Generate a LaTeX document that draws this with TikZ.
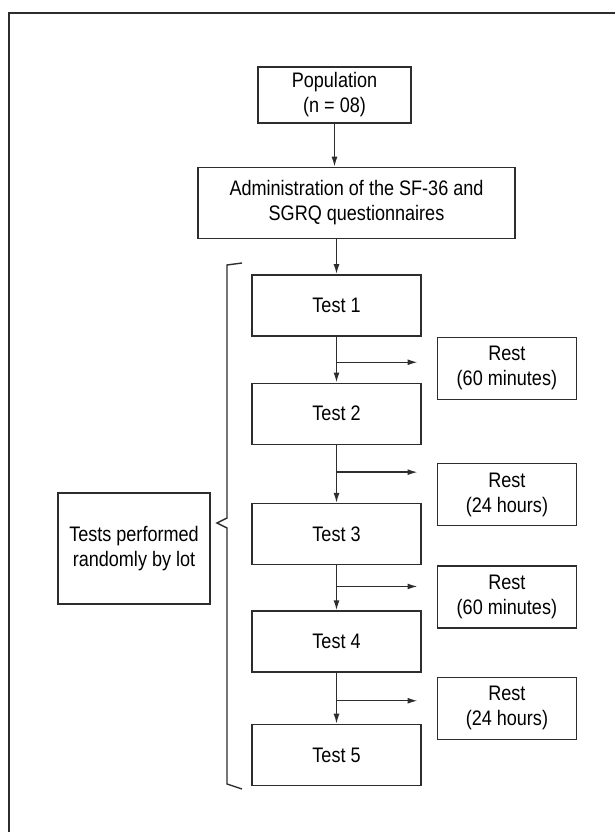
\documentclass[tikz,border=0pt]{standalone}
\usepackage{fontspec}
\setmainfont{Liberation Sans}[FakeStretch=0.86]
\usepackage{tikz}
\usetikzlibrary{arrows.meta, positioning, calc}
\definecolor{lineGray}{RGB}{45,45,45}
\tikzset{
  basebox/.style={rectangle,draw=lineGray,line width=1.4pt,align=center,inner sep=2pt,font=\fontsize{21}{25}\selectfont},
  popnode/.style={basebox,minimum width=153pt,minimum height=56pt},
  adminnode/.style={basebox,minimum width=317pt,minimum height=71pt},
  testnode/.style={basebox,minimum width=169pt,minimum height=61pt},
  restnode/.style={basebox,minimum width=139pt,minimum height=62pt},
  lotnode/.style={basebox,minimum width=152pt,minimum height=111pt},
  arr/.style={-{Latex[length=10pt,width=6pt]},line width=1.4pt,color=lineGray},
  bracketline/.style={line width=1.4pt,color=lineGray}
}

\begin{document}
\begin{tikzpicture}[x=1pt,y=-1pt]
  \useasboundingbox (0,0) rectangle (615,832);
  %% Frame
  \draw[line width=1.6pt,color=lineGray] (615,13) -- (9,13) -- (9,832);

  %% Main column
  \node[popnode] (pop) at (334.5,95) {Population\\(n = 08)};
  \node[adminnode,below=43pt of pop,xshift=22pt] (admin)
      {Administration of the SF-36 and\\SGRQ questionnaires};
  \node[testnode,below=35pt of admin,xshift=-20pt] (t1) {Test 1};
  \node[testnode,below=46pt of t1] (t2) {Test 2};
  \node[testnode,below=58pt of t2] (t3) {Test 3};
  \node[testnode,below=45pt of t3] (t4) {Test 4};
  \node[testnode,below=51pt of t4] (t5) {Test 5};

  %% Rest periods
  \node[restnode,below right=0pt and 15pt of t1.south east] (r1) {Rest\\(60 minutes)};
  \node[restnode,below right=18pt and 15pt of t2.south east] (r2) {Rest\\(24 hours)};
  \node[restnode,below right=0pt and 15pt of t3.south east] (r3) {Rest\\(60 minutes)};
  \node[restnode,below right=4pt and 15pt of t4.south east] (r4) {Rest\\(24 hours)};

  %% Random order note
  \node[lotnode] (lot) at (134,548.5) {Tests performed\\randomly by lot};

  %% Arrows
  \draw[arr] (pop) -- (pop |- admin.north);
  \draw[arr] (t1 |- admin.south) -- (t1);
  \draw[arr] (t1) -- (t2);
  \draw[arr] (t2) -- (t3);
  \draw[arr] (t3) -- (t4);
  \draw[arr] (t4) -- (t5);

  %% Branches to rest
  \coordinate (j1) at ($(t1.south)!0.56!(t2.north)$);
  \coordinate (j2) at ($(t2.south)!0.47!(t3.north)$);
  \coordinate (j3) at ($(t3.south)!0.47!(t4.north)$);
  \coordinate (j4) at ($(t4.south)!0.55!(t5.north)$);
  \foreach \i in {1,...,4}{
    \coordinate[right=81pt of j\i] (e\i);
    \draw[arr] (j\i) -- (e\i);
  }

  %% Brace
  \coordinate (bt) at (242,263);
  \coordinate (bb) at (242,789);
  \coordinate (bp) at (217,523);
  \draw[bracketline] (bt) -- (227,265) -- (227,518) -- (bp) -- (227,528) -- (227,784) -- (bb);
\end{tikzpicture}
\end{document}
